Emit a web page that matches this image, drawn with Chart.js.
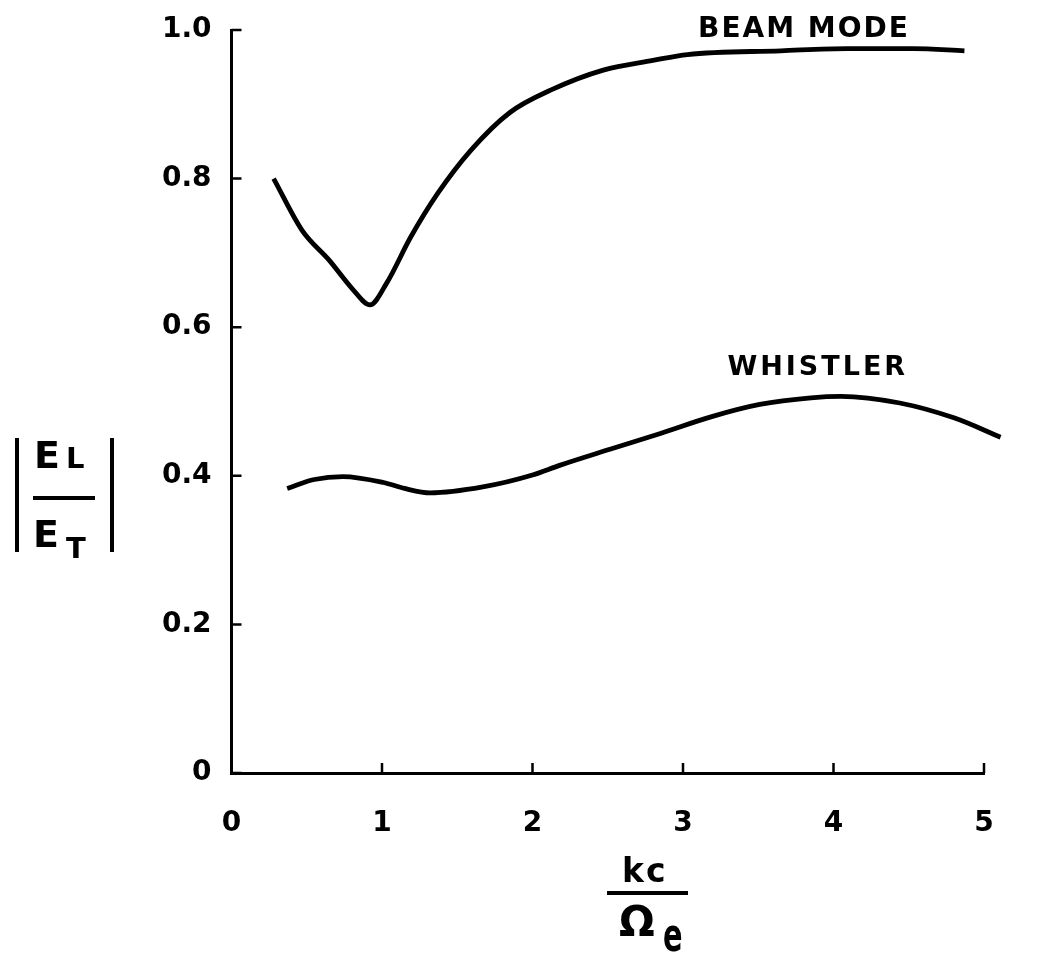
<!DOCTYPE html>
<html>
<head>
<meta charset="utf-8">
<script src="https://cdn.jsdelivr.net/npm/chart.js@4"></script>
<style>
  html, body { margin: 0; padding: 0; background: #fff; }
  #wrap { width: 1037px; height: 956px; }
</style>
</head>
<body>
<div id="wrap"><canvas id="chart" width="1037" height="956"></canvas></div>
<script>
// values
const beamK = [0.28, 0.47, 0.65, 0.81, 0.92, 1.03, 1.19, 1.37, 1.59, 1.85, 2.12, 2.47, 2.80, 3.03, 3.65, 4.09, 4.53, 4.87];
const beamRatio = [0.800, 0.730, 0.690, 0.650, 0.630, 0.659, 0.721, 0.780, 0.838, 0.889, 0.919, 0.946, 0.959, 0.967, 0.972, 0.975, 0.975, 0.972];

const whistlerK = [0.37, 0.55, 0.74, 1.01, 1.15, 1.32, 1.67, 2.00, 2.18, 2.52, 2.85, 3.18, 3.51, 3.85, 4.05, 4.44, 4.80, 5.11];
const whistlerRatio = [0.383, 0.395, 0.399, 0.391, 0.383, 0.377, 0.385, 0.401, 0.414, 0.436, 0.457, 0.479, 0.496, 0.505, 0.507, 0.498, 0.478, 0.452];

const xTickLabels = ['0', '1', '2', '3', '4', '5'];
const yTickLabels = ['0', '0.2', '0.4', '0.6', '0.8', '1.0'];
const curveNames = ['BEAM MODE', 'WHISTLER'];

const FONT = '"DejaVu Sans", "Liberation Sans", sans-serif';

const toPoints = (xs, ys) => xs.map((v, i) => ({ x: v, y: ys[i] }));

// inward tick marks, curve names and the two fraction titles
const annotations = {
    id: 'annotations',
    afterDraw: function (chart) {
        const ctx = chart.ctx;
        const area = chart.chartArea;
        const x = chart.scales.x;
        const y = chart.scales.y;
        ctx.save();

        // tick marks pointing into the plot
        ctx.strokeStyle = '#000';
        ctx.lineWidth = 2.5;
        ctx.beginPath();
        x.ticks.forEach(t => {
            const px = x.getPixelForValue(t.value);
            ctx.moveTo(px, area.bottom);
            ctx.lineTo(px, area.bottom - 10);
        });
        y.ticks.forEach(t => {
            const py = y.getPixelForValue(t.value);
            ctx.moveTo(area.left, py);
            ctx.lineTo(area.left + 10, py);
        });
        ctx.stroke();

        ctx.fillStyle = '#000';
        ctx.textBaseline = 'alphabetic';
        ctx.textAlign = 'left';

        // curve names
        ctx.font = 'bold 28px ' + FONT;
        ctx.letterSpacing = '2px';
        ctx.fillText(curveNames[0], x.getPixelForValue(3.10), y.getPixelForValue(0.990));
        ctx.font = 'bold 27px ' + FONT;
        ctx.letterSpacing = '3px';
        ctx.fillText(curveNames[1], x.getPixelForValue(3.295), y.getPixelForValue(0.535));
        ctx.letterSpacing = '0px';

        // y title |E_L / E_T|
        ctx.fillRect(15, 438, 4, 114);
        ctx.fillRect(110, 438, 4, 114);
        ctx.fillRect(33, 496, 62, 4);
        ctx.font = 'bold 38px ' + FONT;
        ctx.fillText('E', 34, 468);
        ctx.fillText('E', 33, 547);
        ctx.font = 'bold 29px ' + FONT;
        ctx.fillText('L', 66, 468);
        ctx.fillText('T', 66, 558);

        // x title kc / Omega_e
        ctx.font = 'bold 33px ' + FONT;
        ctx.letterSpacing = '2px';
        ctx.fillText('kc', 622, 882);
        ctx.letterSpacing = '0px';
        ctx.fillRect(607, 891, 81, 4);
        ctx.font = 'bold 42px ' + FONT;
        ctx.fillText('\u03A9', 619, 936);
        ctx.save();
        ctx.translate(663, 951);
        ctx.scale(0.8, 1.3);
        ctx.font = 'bold 36px ' + FONT;
        ctx.fillText('e', 0, 0);
        ctx.restore();

        ctx.restore();
    }
};

const lineStyle = {
    borderColor: '#000',
    borderWidth: 4.8,
    pointRadius: 0,
    fill: false,
    cubicInterpolationMode: 'monotone',
    clip: false
};

new Chart(document.getElementById('chart'), {
    type: 'line',
    data: {
        datasets: [
            Object.assign({ label: curveNames[0], data: toPoints(beamK, beamRatio) }, lineStyle),
            Object.assign({ label: curveNames[1], data: toPoints(whistlerK, whistlerRatio) }, lineStyle)
        ]
    },
    options: {
        responsive: false,
        animation: false,
        layout: { padding: { left: 0, right: 53, top: 30, bottom: 0 } },
        plugins: {
            legend: { display: false },
            tooltip: { enabled: false }
        },
        scales: {
            x: {
                type: 'linear',
                min: 0,
                max: 5,
                afterFit: function (scale) {
                    scale.height = 183;
                    scale.paddingLeft = 0;
                    scale.paddingRight = 0;
                },
                border: { display: true, color: '#000', width: 3 },
                grid: { display: false, drawTicks: false, tickLength: 0 },
                ticks: {
                    stepSize: 1,
                    padding: 34,
                    color: '#000',
                    font: { family: FONT, size: 28, weight: 'bold' },
                    callback: (value, index) => xTickLabels[index]
                }
            },
            y: {
                type: 'linear',
                min: 0,
                max: 1,
                afterFit: function (scale) {
                    scale.width = 231.5;
                    scale.paddingTop = 0;
                    scale.paddingBottom = 0;
                },
                border: { display: true, color: '#000', width: 3 },
                grid: { display: false, drawTicks: false, tickLength: 0 },
                ticks: {
                    stepSize: 0.2,
                    padding: 20,
                    color: '#000',
                    font: { family: FONT, size: 28, weight: 'bold' },
                    callback: (value, index) => yTickLabels[index]
                }
            }
        }
    },
    plugins: [annotations]
});
</script>
</body>
</html>
